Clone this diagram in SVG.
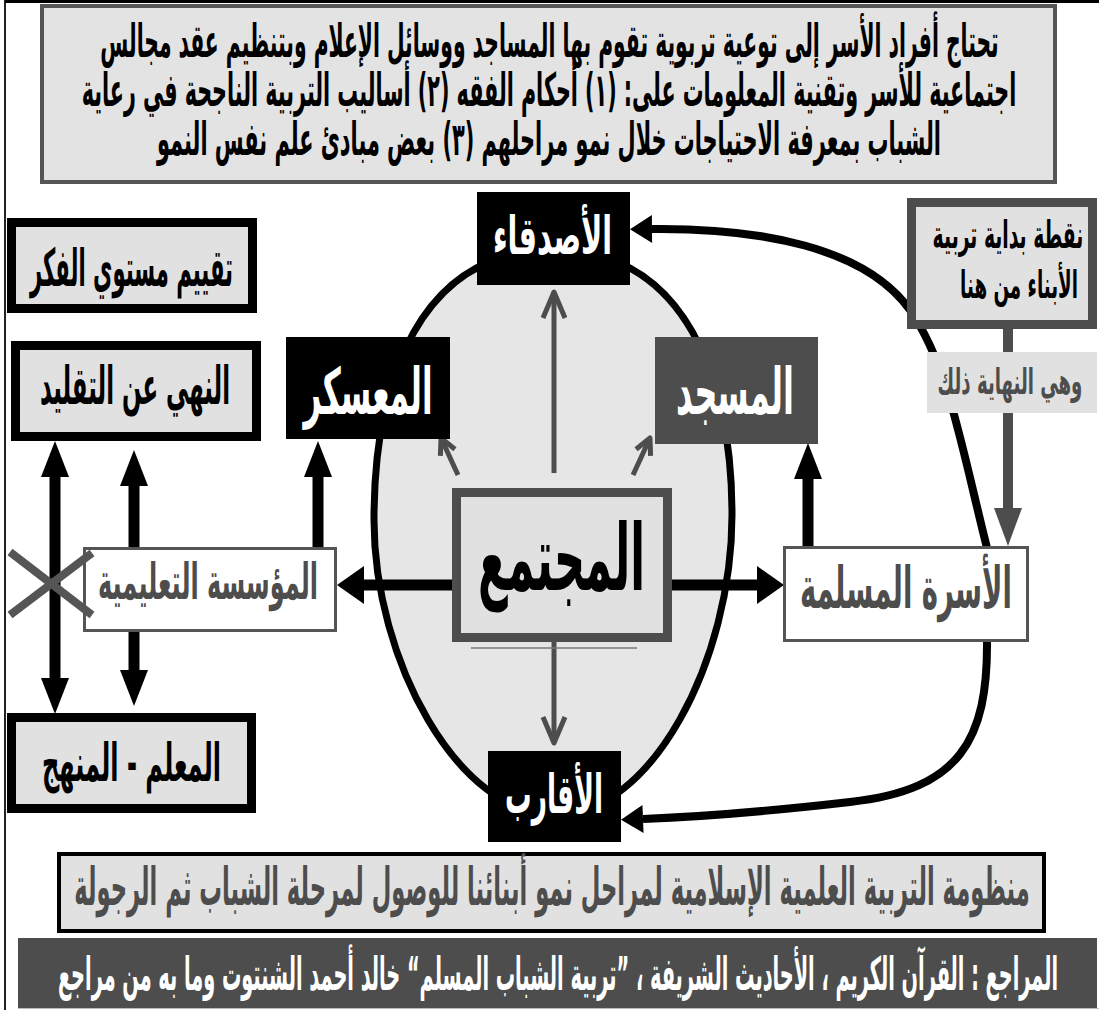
<svg xmlns="http://www.w3.org/2000/svg" width="1099" height="1010" viewBox="0 0 1099 1010">
  <style>
    .t { font-family: "DejaVu Sans", "Noto Sans", sans-serif; font-weight: bold; direction: rtl; text-anchor: middle; }
    .blk { fill: #000; }
    .wht { fill: #fff; }
    .gry { fill: #4d4d4d; }
    .lite { fill: #e1e1e1; }
    .thick { fill: #e1e1e1; stroke: #000; stroke-width: 9; }
    .dark { fill: #e1e1e1; stroke: #4d4d4d; stroke-width: 9; }
    .thin { fill: #fff; stroke: #555; stroke-width: 3; }
    .bar { stroke: #000; stroke-width: 11; fill: none; }
    .curve { stroke: #000; stroke-width: 8; fill: none; }
    .garrow { stroke: #4d4d4d; stroke-width: 5; fill: none; }
  </style>
  <defs>
    <!-- filled heads: drawn from the line end outwards -->
    <marker id="headV" markerUnits="userSpaceOnUse" viewBox="0 -14 36 28" refX="0" refY="0" markerWidth="36" markerHeight="28" orient="auto-start-reverse" overflow="visible">
      <path d="M0,-14 L36,0 L0,14 Z" fill="#000"/>
    </marker>
    <marker id="headH" markerUnits="userSpaceOnUse" viewBox="0 -19 27 38" refX="0" refY="0" markerWidth="27" markerHeight="38" orient="auto" overflow="visible">
      <path d="M0,-19 L27,0 L0,19 Z" fill="#000"/>
    </marker>
    <marker id="headC" markerUnits="userSpaceOnUse" viewBox="0 -14 22 28" refX="0" refY="0" markerWidth="22" markerHeight="28" orient="auto" overflow="visible">
      <path d="M0,-14 L22,0 L0,14 Z" fill="#000"/>
    </marker>
    <marker id="headG" markerUnits="userSpaceOnUse" viewBox="0 -14 38 28" refX="0" refY="0" markerWidth="38" markerHeight="28" orient="auto" overflow="visible">
      <path d="M0,-14 L38,0 L0,14 Z" fill="#4d4d4d"/>
    </marker>
    <!-- open chevrons for the grey arrows -->
    <marker id="vee" markerUnits="userSpaceOnUse" viewBox="-30 -14 34 28" refX="0" refY="0" markerWidth="34" markerHeight="28" orient="auto" overflow="visible">
      <path d="M-26,-11 L0,0 L-26,11" fill="none" stroke="#4d4d4d" stroke-width="5" stroke-linejoin="round"/>
    </marker>
    <marker id="veeS" markerUnits="userSpaceOnUse" viewBox="-20 -10 24 20" refX="0" refY="0" markerWidth="24" markerHeight="20" orient="auto" overflow="visible">
      <path d="M-16,-8 L0,0 L-16,8" fill="none" stroke="#4d4d4d" stroke-width="5" stroke-linejoin="round"/>
    </marker>
  </defs>

  <rect x="0" y="0" width="1099" height="1010" fill="#fff"/>

  <!-- page frame -->
  <g id="frame">
    <line x1="5" y1="0" x2="5" y2="1010" stroke="#222" stroke-width="2"/>
    <line x1="5" y1="1.5" x2="1099" y2="1.5" stroke="#000" stroke-width="3"/>
  </g>

  <!-- community oval -->
  <g id="oval">
    <path d="M553 250 C686 250 732 380 732 515 C732 660 652 815 555 815 C458 815 374 660 374 520 C374 380 420 250 553 250 Z" fill="#e6e6e6" stroke="#000" stroke-width="7"/>
  </g>

  <!-- connectors -->
  <g id="connectors">
    <line class="bar" x1="452" y1="585" x2="364" y2="585" marker-end="url(#headH)"/>
    <line class="bar" x1="672" y1="585" x2="757" y2="585" marker-end="url(#headH)"/>
    <line class="bar" x1="318" y1="548" x2="318" y2="477" marker-end="url(#headV)"/>
    <line class="bar" x1="134" y1="548" x2="134" y2="486" marker-end="url(#headV)"/>
    <line class="bar" x1="134" y1="632" x2="134" y2="670" marker-end="url(#headV)"/>
    <line class="bar" x1="55" y1="477" x2="55" y2="678" marker-start="url(#headV)" marker-end="url(#headV)"/>
    <line class="bar" x1="808" y1="548" x2="808" y2="479" marker-end="url(#headV)"/>
    <path class="curve" d="M987 548 C960 440 948 365 910 310 C865 247 760 228 652 229" marker-end="url(#headC)"/>
    <path class="curve" d="M987 640 C988 740 960 790 850 802 C780 810 720 816 643 819" marker-end="url(#headC)"/>
    <line x1="1008" y1="329" x2="1008" y2="508" stroke="#4d4d4d" stroke-width="10" marker-end="url(#headG)"/>
    <line class="garrow" x1="554" y1="473" x2="554" y2="292" marker-end="url(#vee)"/>
    <line class="garrow" x1="554" y1="642" x2="554" y2="743" marker-end="url(#vee)"/>
    <line class="garrow" x1="458" y1="475" x2="441" y2="438" marker-end="url(#veeS)"/>
    <line class="garrow" x1="633" y1="475" x2="650" y2="438" marker-end="url(#veeS)"/>
  </g>

  <!-- header note -->
  <g id="note-top">
    <rect x="42" y="6" width="1013" height="176" fill="#e3e3e3" stroke="#555" stroke-width="4"/>
    <text class="t blk" transform="translate(549.5 57) scale(0.451 1)" font-size="46" textLength="1992" lengthAdjust="spacingAndGlyphs">تحتاج أفراد الأسر إلى توعية تربوية تقوم بها المساجد ووسائل الإعلام وبتنظيم عقد مجالس</text>
    <text class="t blk" transform="translate(549 106) scale(0.465 1)" font-size="46" textLength="2010" lengthAdjust="spacingAndGlyphs">اجتماعية للأسر وتقنية المعلومات على: (١) أحكام الفقه (٢) أساليب التربية الناجحة في رعاية</text>
    <text class="t blk" transform="translate(549 155) scale(0.4545 1)" font-size="46" textLength="1725" lengthAdjust="spacingAndGlyphs">الشباب بمعرفة الاحتياجات خلال نمو مراحلهم  (٣) بعض مبادئ علم نفس النمو</text>
  </g>

  <g id="node-friends">
    <rect x="477" y="192" width="153" height="93" fill="#000"/>
    <text class="t wht" transform="translate(552.5 254) scale(0.554 1)" font-size="52" textLength="215" lengthAdjust="spacingAndGlyphs">الأصدقاء</text>
  </g>

  <g id="node-camp">
    <rect x="286" y="337" width="164" height="102" fill="#000"/>
    <text class="t wht" transform="translate(368 414) scale(0.483 1)" font-size="64" textLength="267" lengthAdjust="spacingAndGlyphs">المعسكر</text>
  </g>

  <g id="node-mosque">
    <rect x="655" y="337" width="163" height="107" fill="#4d4d4d"/>
    <text class="t wht" transform="translate(735 414) scale(0.502 1)" font-size="64" textLength="235" lengthAdjust="spacingAndGlyphs">المسجد</text>
  </g>

  <g id="node-relatives">
    <rect x="488" y="751" width="133" height="91" fill="#000"/>
    <text class="t wht" transform="translate(554 813) scale(0.495 1)" font-size="54" textLength="198" lengthAdjust="spacingAndGlyphs">الأقارب</text>
  </g>

  <g id="node-society">
    <line x1="471" y1="648" x2="637" y2="648" stroke="#777" stroke-width="1.5"/>
    <rect x="456.5" y="492.5" width="211" height="145" class="dark"/>
    <text class="t blk" transform="translate(561.5 590) scale(0.477 1)" font-size="92" textLength="350" lengthAdjust="spacingAndGlyphs">المجتمع</text>
  </g>

  <g id="node-evaluate">
    <rect x="11.5" y="222.5" width="241" height="86" class="thick"/>
    <text class="t blk" transform="translate(131.5 286) scale(0.407 1)" font-size="52" textLength="499" lengthAdjust="spacingAndGlyphs">تقييم مستوي الفكر</text>
  </g>

  <g id="node-imitation">
    <rect x="15.5" y="345.5" width="241" height="91" class="thick"/>
    <text class="t blk" transform="translate(135 404) scale(0.442 1)" font-size="52" textLength="430" lengthAdjust="spacingAndGlyphs">النهي عن التقليد</text>
  </g>

  <g id="node-school">
    <rect x="84.5" y="548.5" width="251" height="82" class="thin"/>
    <text class="t gry" transform="translate(208 599) scale(0.484 1)" font-size="50" textLength="455" lengthAdjust="spacingAndGlyphs">المؤسسة التعليمية</text>
  </g>

  <g id="node-teacher">
    <rect x="11.5" y="717.5" width="240" height="91" class="thick"/>
    <text class="t blk" transform="translate(131.5 781) scale(0.465 1)" font-size="52" textLength="385" lengthAdjust="spacingAndGlyphs">المعلم - المنهج</text>
  </g>

  <g id="node-family">
    <rect x="784.5" y="547.5" width="243" height="93" class="thin"/>
    <text class="t gry" transform="translate(906 608) scale(0.476 1)" font-size="58" textLength="445" lengthAdjust="spacingAndGlyphs">الأسرة المسلمة</text>
  </g>

  <g id="node-start">
    <rect x="911.5" y="202.5" width="181" height="122" class="dark"/>
    <text class="t blk" transform="translate(1008 248) scale(0.501 1)" font-size="38" textLength="301" lengthAdjust="spacingAndGlyphs">نقطة بداية تربية</text>
    <text class="t blk" transform="translate(1019 298) scale(0.485 1)" font-size="38" textLength="243" lengthAdjust="spacingAndGlyphs">الأبناء من هنا</text>
  </g>

  <g id="label-end">
    <rect x="927" y="352" width="170" height="61" class="lite"/>
    <text class="t gry" transform="translate(1010 394) scale(0.508 1)" font-size="36" textLength="285" lengthAdjust="spacingAndGlyphs">وهي النهاية ذلك</text>
  </g>

  <!-- cross over the left double arrow -->
  <g id="cross">
    <line x1="10" y1="552" x2="92" y2="615" stroke="#555" stroke-width="8"/>
    <line x1="10" y1="615" x2="92" y2="553" stroke="#555" stroke-width="8"/>
  </g>

  <g id="node-system">
    <rect x="59" y="854" width="985" height="77" fill="#e1e1e1" stroke="#000" stroke-width="4"/>
    <text class="t gry" transform="translate(552 905) scale(0.446 1)" font-size="52" textLength="2142" lengthAdjust="spacingAndGlyphs">منظومة التربية العلمية الإسلامية لمراحل نمو أبنائنا للوصول لمرحلة الشباب ثم الرجولة</text>
  </g>

  <g id="node-references">
    <rect x="18" y="938" width="1079" height="70" fill="#4d4d4d"/>
    <line x1="18" y1="1008.5" x2="1099" y2="1008.5" stroke="#bbb" stroke-width="1"/>
    <text class="t wht" transform="translate(558 990) scale(0.4375 1)" font-size="46" textLength="2286" lengthAdjust="spacingAndGlyphs">المراجع : القرآن الكريم ، الأحاديث الشريفة ، ”تربية الشباب المسلم“ خالد أحمد الشنتوت وما به من مراجع</text>
  </g>
</svg>
